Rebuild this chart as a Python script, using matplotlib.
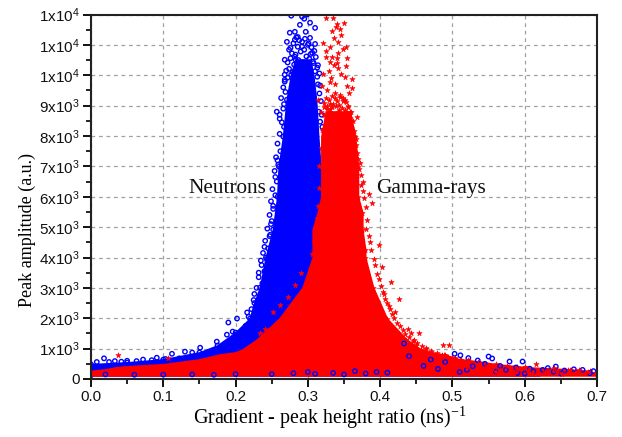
import matplotlib
matplotlib.use('Agg')
import matplotlib.pyplot as plt  # for plotting
from matplotlib.ticker import MultipleLocator

plt.rcParams['font.family'] = ['Liberation Sans', 'DejaVu Sans']
plt.rcParams['mathtext.fontset'] = 'custom'
plt.rcParams['mathtext.rm'] = 'Liberation Sans'

tick_labels_x = ['0.0', '0.1', '0.2', '0.3', '0.4', '0.5', '0.6', '0.7']
tick_values_x = [0.0, 0.1, 0.2, 0.3, 0.4, 0.5, 0.6, 0.7]
tick_values_y = [0, 1000, 2000, 3000, 4000, 5000, 6000, 7000, 8000, 9000, 10000, 11000, 12000]
tick_mantissa = [None, 1, 2, 3, 4, 5, 6, 7, 8, 9, 1, 1, 1]
tick_power = [None, 3, 3, 3, 3, 3, 3, 3, 3, 3, 4, 4, 4]

# Outline of the solid part of each cloud
neutron_amp = [125, 480, 540, 640, 870, 1100, 1530, 1990, 2500, 3010, 4000, 4920, 6000, 6990, 7980, 9195, 10020, 10510]
neutron_left = [0.0, 0.0, 0.05, 0.10, 0.15, 0.175, 0.20, 0.22, 0.226, 0.234, 0.242, 0.252, 0.258, 0.260, 0.266, 0.271, 0.277, 0.283]
neutron_right = [0.62, 0.55, 0.50, 0.45, 0.40, 0.39, 0.38, 0.37, 0.36, 0.35, 0.34, 0.331, 0.320, 0.317, 0.314, 0.311, 0.307, 0.303]

gamma_amp = [125, 260, 310, 380, 410, 480, 575, 640, 800, 870, 970, 1300, 1990, 3010, 4000, 4260, 4920, 5480, 6000, 6990, 7980, 8800]
gamma_left = [0.0, 0.0, 0.02, 0.035, 0.05, 0.10, 0.13, 0.15, 0.178, 0.20, 0.21, 0.23, 0.261, 0.293, 0.307, 0.307, 0.307, 0.314, 0.319, 0.319, 0.319, 0.325]
gamma_right = [0.70, 0.69, 0.66, 0.60, 0.59, 0.56, 0.535, 0.51, 0.488, 0.47, 0.456, 0.436, 0.409, 0.390, 0.379, 0.379, 0.375, 0.375, 0.369, 0.369, 0.365, 0.358]

# Loose points outside the solid part
neutron_x = [0.277, 0.292, 0.299, 0.295, 0.289, 0.303, 0.310, 0.282, 0.297, 0.275, 0.286, 0.303, 0.271, 0.282, 0.292, 0.300, 0.310, 0.286, 0.274, 0.295, 0.306, 0.268, 0.282, 0.307, 0.313, 0.313, 0.268, 0.268, 0.317, 0.257, 0.266, 0.261, 0.267, 0.261, 0.315, 0.317, 0.258, 0.255, 0.252, 0.249, 0.247, 0.240, 0.235, 0.232, 0.226, 0.216, 0.202, 0.196, 0.190, 0.188, 0.174, 0.151, 0.140, 0.130, 0.112, 0.091, 0.072, 0.050, 0.033, 0.018, 0.008, 0.210, 0.205, 0.198, 0.183, 0.178]
neutron_y = [11960, 11930, 12000, 11860, 11660, 11730, 11560, 11430, 11430, 11400, 11260, 11230, 11100, 11170, 11100, 11000, 11030, 10940, 10840, 10840, 10740, 10510, 10610, 10450, 10250, 9950, 10020, 9790, 9660, 8800, 8900, 8570, 8300, 8070, 8800, 8470, 7200, 6650, 5700, 5100, 4700, 4350, 3900, 3500, 2800, 2190, 1990, 1560, 1860, 1460, 1230, 1030, 870, 900, 830, 700, 640, 600, 590, 680, 560, 1500, 1250, 1120, 1110, 990]

# Points crowding along the edge of the neutron cloud
neutron_edge_x = [0.284, 0.280, 0.276, 0.288, 0.292, 0.296, 0.301, 0.305, 0.309, 0.278, 0.283, 0.290, 0.298, 0.304, 0.311, 0.272, 0.276, 0.281, 0.287, 0.294, 0.302, 0.308, 0.314, 0.270, 0.274, 0.279, 0.285, 0.291, 0.297, 0.303, 0.310, 0.316, 0.268, 0.272, 0.266, 0.269, 0.263, 0.267, 0.261, 0.264, 0.314, 0.316, 0.318, 0.319, 0.320, 0.258, 0.262, 0.256, 0.259, 0.254, 0.257, 0.251, 0.255, 0.249, 0.252, 0.247, 0.250, 0.244, 0.248, 0.241, 0.245, 0.238, 0.243, 0.236, 0.240, 0.232, 0.237, 0.229, 0.234, 0.225, 0.230, 0.222, 0.227, 0.218, 0.223, 0.214, 0.219, 0.209, 0.215, 0.204, 0.211, 0.199, 0.206, 0.193, 0.200, 0.185, 0.195, 0.178, 0.188, 0.168, 0.180, 0.160, 0.172, 0.152, 0.122, 0.103, 0.084, 0.063, 0.042, 0.025]
neutron_edge_y = [11250, 11050, 10900, 11150, 10950, 11200, 11050, 10920, 10800, 10720, 10680, 10780, 10620, 10700, 10600, 10420, 10560, 10350, 10500, 10430, 10540, 10400, 10330, 10150, 10210, 10100, 10260, 10300, 10180, 10220, 10130, 10060, 9850, 9920, 9600, 9450, 9250, 9050, 8700, 8450, 9700, 9400, 9150, 8700, 8300, 7750, 7500, 7300, 7050, 6850, 6500, 6250, 6050, 5850, 5600, 5400, 5200, 4950, 4750, 4550, 4300, 4150, 3950, 3750, 3550, 3350, 3150, 3000, 2750, 2600, 2400, 2300, 2100, 2050, 1850, 1750, 1600, 1550, 1400, 1350, 1200, 1200, 1050, 1050, 950, 960, 830, 910, 790, 820, 730, 770, 690, 720, 680, 660, 620, 590, 570, 560]

gamma_x = [0.325, 0.335, 0.350, 0.340, 0.339, 0.333, 0.344, 0.346, 0.336, 0.321, 0.342, 0.331, 0.353, 0.349, 0.325, 0.342, 0.333, 0.354, 0.340, 0.331, 0.336, 0.353, 0.342, 0.321, 0.351, 0.361, 0.331, 0.319, 0.354, 0.361, 0.314, 0.368, 0.364, 0.327, 0.337, 0.345, 0.322, 0.330, 0.348, 0.334, 0.326, 0.343, 0.356, 0.338, 0.329, 0.346, 0.332, 0.341, 0.325, 0.352, 0.318, 0.366, 0.376, 0.372, 0.384, 0.389, 0.399, 0.403, 0.415, 0.426, 0.443, 0.454, 0.449, 0.463, 0.487, 0.495, 0.405, 0.412, 0.420, 0.438, 0.447, 0.470, 0.478, 0.037, 0.106, 0.252, 0.256, 0.262, 0.272, 0.282, 0.268, 0.277, 0.290, 0.234, 0.241]
gamma_y = [11900, 11900, 11730, 11700, 11600, 11470, 11530, 11330, 11230, 11060, 11100, 10940, 10940, 10870, 10800, 10740, 10610, 10580, 10580, 10450, 10340, 10310, 10250, 10050, 9950, 9880, 9790, 9630, 9660, 9590, 9200, 8640, 8180, 9500, 9400, 9300, 9100, 9050, 9150, 8950, 8900, 8850, 9000, 9700, 10150, 10050, 9900, 10400, 10600, 9200, 8800, 7900, 6500, 7100, 6100, 5800, 4400, 3700, 3200, 2650, 1530, 1500, 1135, 1035, 1135, 1135, 2800, 2400, 2190, 1630, 1290, 880, 760, 800, 675, 2200, 1800, 2450, 2700, 3100, 1900, 2250, 3500, 1500, 1650]

# Points crowding along the edge of the gamma cloud
gamma_edge_x = [0.323, 0.327, 0.331, 0.335, 0.339, 0.343, 0.347, 0.351, 0.355, 0.359, 0.325, 0.329, 0.333, 0.337, 0.341, 0.345, 0.349, 0.353, 0.357, 0.322, 0.326, 0.330, 0.334, 0.338, 0.342, 0.346, 0.350, 0.354, 0.358, 0.362, 0.320, 0.324, 0.328, 0.332, 0.336, 0.340, 0.344, 0.348, 0.352, 0.356, 0.360, 0.364, 0.366, 0.368, 0.370, 0.371, 0.373, 0.374, 0.376, 0.378, 0.380, 0.382, 0.381, 0.384, 0.386, 0.388, 0.391, 0.393, 0.396, 0.398, 0.401, 0.404, 0.407, 0.410, 0.413, 0.416, 0.419, 0.423, 0.427, 0.431, 0.435, 0.440, 0.445, 0.451, 0.458, 0.464, 0.471, 0.478, 0.486, 0.494, 0.503, 0.512, 0.318, 0.316, 0.315, 0.314, 0.312, 0.311, 0.309, 0.306]
gamma_edge_y = [8950, 9000, 8900, 9050, 8980, 9030, 8920, 8860, 8950, 8800, 9250, 9180, 9320, 9240, 9150, 9350, 9260, 9120, 9420, 8700, 8650, 8780, 8720, 8680, 8790, 8730, 8660, 8750, 8600, 8500, 8200, 8350, 8280, 8400, 8320, 8450, 8380, 8300, 8410, 8350, 8250, 8000, 7700, 7450, 7250, 6900, 6700, 6400, 6200, 5950, 5650, 5250, 4950, 4700, 4500, 4250, 3950, 3750, 3450, 3300, 3050, 2850, 2650, 2500, 2300, 2150, 2000, 1850, 1750, 1600, 1480, 1380, 1250, 1180, 1080, 990, 930, 850, 790, 730, 680, 620, 7600, 7000, 6300, 5700, 5300, 5000, 4500, 4100]

# Mixed low tail on the right, where the points no longer overlap fully
tail_blue_x = [0.433, 0.503, 0.511, 0.522, 0.535, 0.550, 0.555, 0.545, 0.579, 0.597, 0.566, 0.588, 0.607, 0.625, 0.643, 0.632, 0.655, 0.668, 0.680, 0.695, 0.612, 0.574, 0.528, 0.49, 0.47, 0.44, 0.41, 0.38, 0.35, 0.31, 0.28, 0.25, 0.395, 0.365, 0.335, 0.30, 0.46, 0.52, 0.60, 0.65, 0.20, 0.17, 0.14, 0.10, 0.06, 0.02, 0.48, 0.51, 0.56, 0.59, 0.64, 0.69]
tail_blue_y = [1170, 830, 780, 690, 610, 740, 675, 500, 575, 575, 430, 380, 340, 300, 410, 360, 280, 320, 300, 260, 250, 300, 420, 560, 640, 750, 210, 180, 150, 170, 190, 160, 230, 260, 200, 230, 430, 300, 180, 180, 160, 140, 150, 145, 140, 150, 330, 230, 240, 200, 240, 190]
tail_red_x = [0.510, 0.522, 0.535, 0.548, 0.555, 0.566, 0.575, 0.590, 0.604, 0.616, 0.628, 0.640, 0.651, 0.662, 0.675, 0.687, 0.698, 0.585, 0.610, 0.645, 0.560, 0.600, 0.632, 0.670, 0.52, 0.54, 0.50, 0.49]
tail_red_y = [540, 620, 480, 440, 360, 300, 420, 340, 270, 490, 220, 350, 180, 290, 310, 230, 200, 220, 190, 220, 220, 380, 280, 210, 410, 300, 680, 780]

fig, ax = plt.subplots(figsize=(6.22, 4.37), dpi=100)
fig.subplots_adjust(left=91 / 622, right=597 / 622, top=1 - 14.5 / 437, bottom=1 - 379 / 437)

ax.grid(True, which='major', color='#a0a0a0', linestyle='--', linewidth=0.9, dashes=(3, 3))
ax.set_axisbelow(True)

blue = '#0000ff'
red = '#ff0000'
circle = dict(s=10, marker='o', facecolors='none', edgecolors=blue, linewidths=1.0)
star = dict(s=16, marker='*', color=red, linewidths=0.4)

ax.fill_betweenx(neutron_amp, neutron_left, neutron_right, color=blue, linewidth=1.5, zorder=2)
ax.scatter(neutron_x, neutron_y, zorder=3, **circle)
ax.scatter(neutron_left, neutron_amp, zorder=3, **circle)
ax.scatter(neutron_edge_x, neutron_edge_y, zorder=3, **circle)
ax.fill_betweenx(gamma_amp, gamma_left, gamma_right, color=red, linewidth=1.5, zorder=4)
ax.scatter(gamma_x, gamma_y, zorder=5, **star)
ax.scatter(gamma_right, gamma_amp, zorder=5, **star)
ax.scatter(gamma_edge_x, gamma_edge_y, zorder=5, **star)
ax.scatter(tail_blue_x, tail_blue_y, zorder=6, **circle)
ax.scatter(tail_red_x, tail_red_y, zorder=7, **star)

ax.set_xlim(0.0, 0.7)
ax.set_ylim(0, 12000)
ax.set_xticks(tick_values_x)
ax.set_xticklabels(tick_labels_x)
ax.xaxis.set_minor_locator(MultipleLocator(0.05))
ax.set_yticks(tick_values_y)
y_labels = []
for m, p in zip(tick_mantissa, tick_power):
    if m is None:
        y_labels.append('0')
    else:
        y_labels.append('$\\mathregular{%dx10^{%d}}$' % (m, p))
ax.set_yticklabels(y_labels)
ax.yaxis.set_minor_locator(MultipleLocator(500))

ax.tick_params(axis='both', which='major', direction='out', length=6, width=1.4, labelsize=11, pad=2, colors='#111111')
ax.tick_params(axis='both', which='minor', direction='out', length=3.5, width=1.2)
for side in ['left', 'bottom', 'top', 'right']:
    ax.spines[side].set_linewidth(1.5)
    ax.spines[side].set_color('#222222')
    ax.spines[side].set_zorder(10)

ax.set_xlabel('Gradient - peak height ratio (ns)$^{\\mathregular{-1}}$', family=['Liberation Serif'], fontsize=14.4, labelpad=0, x=0.472)
ax.set_ylabel('Peak amplitude (a.u.)', family=['Liberation Serif'], fontsize=13, labelpad=2, y=0.41)

ax.text(0.188, 6270, 'Neutrons', family=['Liberation Serif'], fontsize=15.3, ha='center', va='center', color='#111111', zorder=8)
ax.text(0.470, 6270, 'Gamma-rays', family=['Liberation Serif'], fontsize=15.3, ha='center', va='center', color='#111111', zorder=8)

fig.savefig('out.png', dpi=100)
